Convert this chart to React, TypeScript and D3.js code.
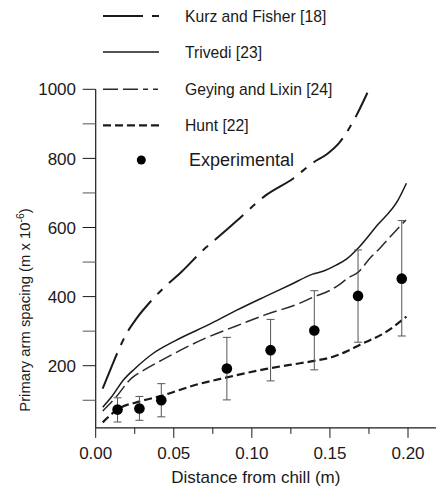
import React from "react";
import * as d3 from "d3";

// Model curves: [distance from chill (m), primary arm spacing (µm)]
const kurzFisher: [number, number][] = [
  [0.0045, 134], [0.01, 195], [0.0156, 255], [0.02, 295], [0.0262, 337],
  [0.035, 385], [0.0433, 424], [0.055, 472], [0.0689, 535], [0.0753, 560],
  [0.09, 618], [0.1095, 695], [0.1265, 742], [0.1393, 788], [0.148, 812],
  [0.1558, 844], [0.166, 916], [0.174, 990],
];
const trivedi: [number, number][] = [
  [0.0045, 80], [0.0102, 110], [0.018, 160], [0.0252, 192], [0.0369, 236],
  [0.0508, 272], [0.0743, 323], [0.09, 360], [0.1084, 400], [0.125, 435],
  [0.139, 465], [0.146, 474], [0.154, 491], [0.161, 510], [0.168, 540],
  [0.18, 605], [0.1937, 680], [0.199, 728],
];
const geyingLixin: [number, number][] = [
  [0.0045, 69], [0.0124, 106], [0.023, 164], [0.03, 185], [0.0423, 216],
  [0.07, 279], [0.09, 315], [0.1084, 347], [0.1308, 381], [0.139, 398],
  [0.15, 418], [0.156, 435], [0.162, 455], [0.168, 470], [0.1756, 511],
  [0.182, 540], [0.19, 580], [0.1987, 622],
];
const hunt: [number, number][] = [
  [0.0045, 36], [0.0138, 73], [0.0277, 96], [0.0415, 112], [0.0636, 144],
  [0.0839, 166], [0.1084, 190], [0.1308, 207], [0.14, 214], [0.152, 226],
  [0.16, 240], [0.169, 260], [0.186, 298], [0.199, 342],
];

// Experimental measurements with their scatter range
const expDistance = [0.014, 0.028, 0.042, 0.084, 0.112, 0.14, 0.168, 0.196];
const expSpacing = [73, 76, 100, 192, 245, 302, 402, 452];
const expLow = [37, 42, 52, 101, 156, 188, 268, 286];
const expHigh = [107, 111, 148, 282, 334, 417, 535, 620];

const xTicks = [0, 0.05, 0.1, 0.15, 0.2];
const xMinorTicks = [0.025, 0.075, 0.125, 0.175];
const yTicks = [200, 400, 600, 800, 1000];
const yMinorTicks = [100, 300, 500, 700, 900];

const legendLabels = [
  "Kurz and Fisher [18]",
  "Trivedi [23]",
  "Geying and Lixin [24]",
  "Hunt [22]",
];

const FONT = "'Liberation Sans', Arial, Helvetica, sans-serif";
const INK = "#1a1a1a";

export default function App() {
  const width = 436;
  const height = 488;

  const x = d3.scaleLinear().domain([0, 0.2]).range([95.7, 408]);
  const y = d3.scaleLinear().domain([0, 1000]).range([434.8, 89.3]);

  const yMin = 20;
  const xMax = 0.218;

  const line = d3
    .line<[number, number]>()
    .x((d) => x(d[0]))
    .y((d) => y(d[1]))
    .curve(d3.curveMonotoneX);

  const series = [
    { data: kurzFisher, dash: "38,9,7,9", legendDash: "40,9,7,100", w: 2, color: INK },
    { data: trivedi, dash: "none", legendDash: "none", w: 1.5, color: INK },
    { data: geyingLixin, dash: "14,5", legendDash: "15,5,15,5,5,5,5,5", w: 1.5, color: "#2a2a2a" },
    { data: hunt, dash: "8,4", legendDash: "8,4", w: 2.2, color: INK },
  ];

  const legendRows = [16, 52, 89.3, 125.3];

  return (
    <svg
      width={width}
      height={height}
      style={{ position: "absolute", left: 0, top: 0, background: "#fff" }}
      fontFamily={FONT}
    >
      <rect width={width} height={height} fill="#fff" />

      {/* axes */}
      <line x1={x(0)} x2={x(0)} y1={y(yMin)} y2={y(1000)} stroke={INK} strokeWidth={1.2} />
      <line x1={x(0)} x2={x(xMax)} y1={y(yMin)} y2={y(yMin)} stroke={INK} strokeWidth={1.2} />

      {yTicks.map((t) => (
        <g key={"yt" + t}>
          <line x1={x(0) - 13} x2={x(0)} y1={y(t)} y2={y(t)} stroke={INK} strokeWidth={1} />
          <text x={76} y={y(t)} dy="0.36em" textAnchor="end" fontSize={17} fill={INK}>
            {t}
          </text>
        </g>
      ))}
      {yMinorTicks.map((t) => (
        <line key={"ym" + t} x1={x(0) - 13} x2={x(0)} y1={y(t)} y2={y(t)} stroke="#555" strokeWidth={1} />
      ))}

      {xTicks.map((t) => (
        <g key={"xt" + t}>
          <line x1={x(t)} x2={x(t)} y1={y(yMin)} y2={y(yMin) + 10} stroke={INK} strokeWidth={1} />
          <text x={x(t)} y={459} textAnchor="middle" fontSize={17} fill={INK}>
            {d3.format(".2f")(t)}
          </text>
        </g>
      ))}
      {xMinorTicks.map((t) => (
        <line key={"xm" + t} x1={x(t)} x2={x(t)} y1={y(yMin)} y2={y(yMin) + 6} stroke={INK} strokeWidth={1} />
      ))}

      <text x={(x(0) + x(0.2)) / 2 + 4} y={483} textAnchor="middle" fontSize={17} fill={INK}>
        Distance from chill (m)
      </text>
      <text
        transform={`translate(30, 310) rotate(-90)`}
        textAnchor="middle"
        fontSize={14.8}
        fill={INK}
      >
        Primary arm spacing (m x 10
        <tspan dy={-6} fontSize={10.5}>-6</tspan>
        <tspan dy={6}>)</tspan>
      </text>

      {/* model curves */}
      {series.map((s, i) => (
        <path
          key={"s" + i}
          d={line(s.data) ?? ""}
          fill="none"
          stroke={s.color}
          strokeWidth={s.w}
          strokeDasharray={s.dash}
        />
      ))}

      {/* experimental points with range bars */}
      {expDistance.map((d, i) => (
        <g key={"e" + i} stroke="#555" strokeWidth={1}>
          <line x1={x(d)} x2={x(d)} y1={y(expLow[i])} y2={y(expHigh[i])} />
          <line x1={x(d) - 4} x2={x(d) + 4} y1={y(expLow[i])} y2={y(expLow[i])} />
          <line x1={x(d) - 4} x2={x(d) + 4} y1={y(expHigh[i])} y2={y(expHigh[i])} />
          <circle cx={x(d)} cy={y(expSpacing[i])} r={5.3} fill="#000" stroke="none" />
        </g>
      ))}

      {/* legend */}
      {legendLabels.map((label, i) => (
        <g key={"l" + i}>
          <line
            x1={103}
            x2={159}
            y1={legendRows[i]}
            y2={legendRows[i]}
            stroke={series[i].color}
            strokeWidth={series[i].w}
            strokeDasharray={series[i].legendDash}
          />
          <text x={185} y={legendRows[i]} dy="0.36em" fontSize={15.7} fill={INK}>
            {label}
          </text>
        </g>
      ))}
      <circle cx={141.3} cy={160} r={4.5} fill="#000" />
      <text x={189} y={160} dy="0.36em" fontSize={18} fill={INK}>
        Experimental
      </text>
    </svg>
  );
}
